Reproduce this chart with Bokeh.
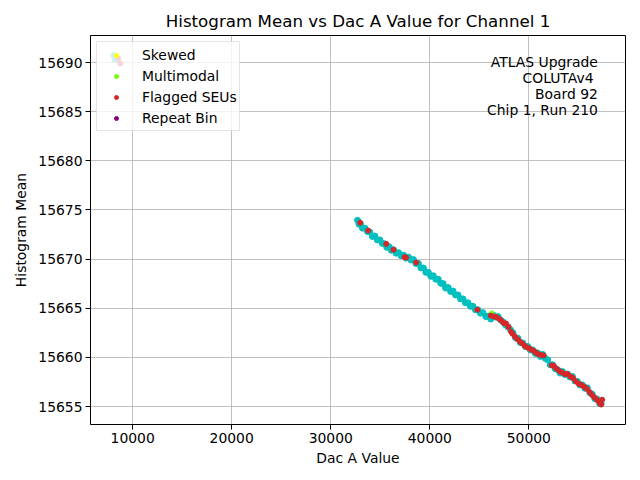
from bokeh.plotting import figure
from bokeh.embed import file_html
from bokeh.resources import INLINE
from bokeh.models import Range1d, FixedTicker, Label

# values
# points that passed (no flag)
normal_x = [8100, 8250,
            32700, 32850, 33000, 33200, 33450, 33700, 33950, 34200, 34450, 34700,
            34950, 35200, 35450, 35650, 35900, 36100, 36350, 36600, 36850, 37100,
            37350, 37600, 37850, 38100, 38350, 38600, 38850, 39100, 39350, 39600,
            39850, 40100, 40350, 40600, 40850, 41100, 41350, 41600, 41850, 42100,
            42350, 42600, 42850, 43100, 43350, 43600, 43850, 44100, 44350, 44600,
            44850, 45100, 45350, 45650, 45900, 46150, 46400, 46650, 46900, 47150,
            47400, 47650, 47900, 48150, 48400, 48650, 48900, 49150, 49400, 49650,
            49900, 50150, 50400, 50650, 50900, 51150, 51400, 51650, 51900, 52150,
            52400, 52650, 52900, 53150, 53400, 53650, 53900, 54150, 54400, 54650,
            54900, 55150, 55400, 55650, 55900, 56150, 56400, 56650, 56900, 57150,
            57300]
normal_y = [15690.7, 15690.3,
            15673.95, 15673.55, 15673.6, 15673.15, 15673.15, 15672.8, 15672.75, 15672.3,
            15672.35, 15671.95, 15671.95, 15671.6, 15671.55, 15671.2, 15671.25, 15670.9,
            15670.95, 15670.6, 15670.65, 15670.35, 15670.4, 15670.1, 15670.2, 15669.9,
            15669.95, 15669.55, 15669.55, 15669.1, 15669.1, 15668.65, 15668.65, 15668.25,
            15668.3, 15667.95, 15667.95, 15667.55, 15667.5, 15667.05, 15667.1, 15666.7,
            15666.75, 15666.35, 15666.35, 15665.95, 15665.95, 15665.55, 15665.55, 15665.2,
            15665.2, 15664.85, 15664.85, 15664.5, 15664.55, 15664.15, 15664.2, 15663.9,
            15664.3, 15664.1, 15664.15, 15663.8, 15663.6, 15663.3, 15663.1, 15662.8,
            15662.5, 15662.0, 15661.95, 15661.5, 15661.45, 15661.1, 15661.1, 15660.75,
            15660.75, 15660.4, 15660.45, 15660.1, 15660.3, 15659.9, 15659.75, 15659.25,
            15659.25, 15658.85, 15658.75, 15658.4, 15658.55, 15658.25, 15658.3, 15658.0,
            15658.05, 15657.6, 15657.55, 15657.2, 15657.2, 15656.85, 15656.9, 15656.4,
            15656.25, 15655.8, 15655.75, 15655.3, 15655.3]

skewed_x = []
skewed_y = []

multimodal_x = [46250]
multimodal_y = [15664.5]

seu_x = [8550, 8750,
         32970, 33770, 35600, 36330, 37450, 37600, 38620, 44800,
         46150, 46450, 46700, 46950, 47200, 47450, 47700, 47950, 48200, 48350,
         48600, 48850, 49100, 49350, 49600, 49850, 50150, 50400, 50650, 50900,
         51200, 51500, 52300, 52550, 52800, 53100, 53350, 53650, 53900, 54200,
         54450, 54750, 55050, 55300, 55600, 55850, 56150, 56400, 56650, 56900,
         57150, 57300, 57400]
seu_y = [15690.4, 15689.9,
         15673.7, 15672.9, 15671.55, 15670.95, 15670.2, 15670.15, 15669.65, 15664.85,
         15664.25, 15664.15, 15664.1, 15663.95, 15663.75, 15663.5, 15663.45, 15663.1,
         15662.6, 15662.4, 15662.1, 15661.85, 15661.6, 15661.4, 15661.15, 15661.0,
         15660.85, 15660.7, 15660.55, 15660.35, 15660.25, 15660.2, 15659.2, 15659.1,
         15658.85, 15658.6, 15658.45, 15658.3, 15658.3, 15658.05, 15657.9, 15657.55,
         15657.3, 15657.2, 15657.0, 15656.8, 15656.45, 15656.15, 15655.9, 15655.65,
         15655.35, 15655.2, 15655.7]

repeat_x = []
repeat_y = []

x_ticks = [10000, 20000, 30000, 40000, 50000]
y_ticks = [15655, 15660, 15665, 15670, 15675, 15680, 15685, 15690]

info_lines = ["ATLAS Upgrade", "COLUTAv4 ", "Board 92", "Chip 1, Run 210"]

FONT = "DejaVu Sans"
NAN = [float("nan")]  # empty series still need a legend swatch

p = figure(width=640, height=480, output_backend="svg", toolbar_location=None,
           x_range=Range1d(5745, 59755), y_range=Range1d(15653.17, 15692.75),
           title="Histogram Mean vs Dac A Value for Channel 1",
           min_border_left=90, min_border_right=15, min_border_top=35, min_border_bottom=56)

p.title.align = "center"
p.title.text_font = FONT
p.title.text_font_size = "16.7px"
p.title.text_font_style = "normal"
p.title.text_color = "black"

p.outline_line_color = "black"
p.outline_line_alpha = 1
p.outline_line_width = 1

for ax in (p.xaxis[0], p.yaxis[0]):
    ax.axis_label_text_font = FONT
    ax.axis_label_text_font_size = "13.9px"
    ax.axis_label_text_font_style = "normal"
    ax.axis_label_text_color = "black"
    ax.major_label_text_font = FONT
    ax.major_label_text_font_size = "13.9px"
    ax.major_label_text_color = "black"
    ax.major_tick_in = 0
    ax.major_tick_out = 5
    ax.minor_tick_in = 0
    ax.minor_tick_out = 0
    ax.axis_line_color = None
    ax.major_tick_line_color = "black"
    ax.major_label_standoff = 3

p.xaxis.ticker = FixedTicker(ticks=x_ticks)
p.yaxis.ticker = FixedTicker(ticks=y_ticks)
p.xaxis.axis_label = "Dac A Value"
p.yaxis.axis_label = "Histogram Mean"
p.xaxis.axis_label_standoff = 4
p.yaxis.axis_label_standoff = 6

p.grid.grid_line_color = "#b0b0b0"
p.grid.grid_line_width = 0.8

p.scatter(normal_x, normal_y, size=6, color="#00bfbf")
p.scatter(skewed_x or NAN, skewed_y or NAN, size=4, color="yellow", legend_label="Skewed")
p.scatter(multimodal_x, multimodal_y, size=4.5, color="#7cfc00", legend_label="Multimodal")
p.scatter(seu_x, seu_y, size=5, color="#d62728", legend_label="Flagged SEUs")
p.scatter(repeat_x or NAN, repeat_y or NAN, size=4, color="purple", legend_label="Repeat Bin")

lg = p.legend[0]
lg.location = "top_left"
lg.margin = 6
lg.padding = 2
lg.spacing = 0
lg.glyph_width = 34
lg.glyph_height = 10
lg.label_height = 21
lg.label_standoff = 9
lg.label_text_font = FONT
lg.label_text_font_size = "13.9px"
lg.label_text_color = "black"
lg.border_line_color = "#cccccc"
lg.background_fill_alpha = 0.8

line_y = [15690.1, 15688.45, 15686.8, 15685.15]
for txt, yy in zip(info_lines, line_y):
    p.add_layout(Label(x=56970, y=yy, text=txt, text_align="right", text_baseline="middle",
                       text_font=FONT, text_font_size="13.9px", text_color="black"))

open("out.html", "w").write(file_html(p, INLINE))
